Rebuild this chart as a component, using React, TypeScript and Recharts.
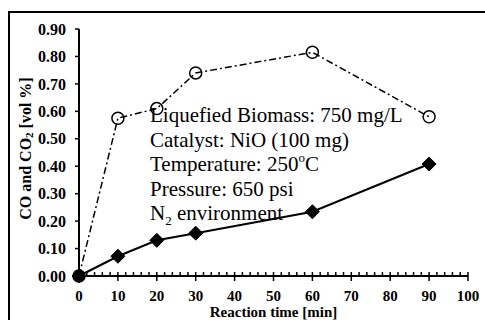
import React from 'react';
import { LineChart, Line, XAxis, YAxis } from 'recharts';

const times = [0, 10, 20, 30, 60, 90];
const seriesCircle = [0, 0.575, 0.61, 0.74, 0.815, 0.58];
const seriesDiamond = [0, 0.072, 0.13, 0.156, 0.234, 0.408];
const xTicks = [0, 2, 4, 6, 8, 10, 12, 14, 16, 18, 20, 22, 24, 26, 28, 30, 32, 34, 36, 38, 40, 42, 44, 46, 48, 50, 52, 54, 56, 58, 60, 62, 64, 66, 68, 70, 72, 74, 76, 78, 80, 82, 84, 86, 88, 90, 92, 94, 96, 98, 100];
const yTicks = [0, 0.1, 0.2, 0.3, 0.4, 0.5, 0.6, 0.7, 0.8, 0.9];

const data = times.map((t, i) => ({ t, a: seriesCircle[i], b: seriesDiamond[i] }));

const FONT = '"Liberation Serif", "Times New Roman", serif';

const XTick = (props: any) => {
  const { x, y, payload } = props;
  const v = payload.value;
  const major = v % 10 === 0;
  return (
    <g>
      <line x1={x} x2={x} y1={y - 4} y2={major ? y + 5 : y} stroke="#000" strokeWidth={1.5} />
      {major && (
        <text x={x} y={y + 24.5} textAnchor="middle" fontFamily={FONT} fontWeight="bold" fontSize={15} fill="#000">
          {v}
        </text>
      )}
    </g>
  );
};

const CircleDot = (props: any) => {
  const { cx, cy } = props;
  return <circle cx={cx} cy={cy} r={6} fill="none" stroke="#000" strokeWidth={1.5} />;
};

const DiamondDot = (props: any) => {
  const { cx, cy } = props;
  const h = 7;
  return <polygon points={`${cx},${cy - h} ${cx + h},${cy} ${cx},${cy + h} ${cx - h},${cy}`} fill="#000" stroke="#000" />;
};

const YLabel = (props: any) => {
  const vb = props.viewBox || { x: 0, y: 29, width: 79, height: 247 };
  const cx = vb.x + 25;
  const cy = vb.y + vb.height / 2 - 4;
  return (
    <text
      x={cx}
      y={cy}
      transform={`rotate(-90 ${cx} ${cy})`}
      textAnchor="middle"
      dominantBaseline="central"
      fontFamily={FONT}
      fontWeight="bold"
      fontSize={16}
      fill="#000"
    >
      CO and CO<tspan dy={4} fontSize={11}>2</tspan><tspan dy={-4}> [vol %]</tspan>
    </text>
  );
};

const XLabel = (props: any) => {
  const vb = props.viewBox || { x: 79, y: 276, width: 389, height: 44 };
  return (
    <text x={vb.x + vb.width / 2} y={vb.y + 40.5} textAnchor="middle" fontFamily={FONT} fontWeight="bold" fontSize={15} fill="#000">
      Reaction time [min]
    </text>
  );
};

const noteLines = ['Liquefied Biomass: 750 mg/L', 'Catalyst: NiO (100 mg)'];

export default function App() {
  return (
    <div style={{ position: 'absolute', left: 0, top: 0, width: 485, height: 320, background: '#fff', overflow: 'hidden' }}>
      <div style={{ position: 'absolute', left: 8, top: 11, width: 500, height: 340, borderTop: '2px solid #000', borderLeft: '2px solid #000' }} />
      <div style={{ position: 'absolute', left: 0, top: 0 }}>
        <LineChart width={485} height={320} data={data} margin={{ top: 29, right: 17, bottom: 0, left: 0 }}>
          <XAxis
            dataKey="t"
            type="number"
            domain={[0, 100]}
            ticks={xTicks}
            interval={0}
            tickLine={false}
            tickSize={0}
            tickMargin={0}
            tick={<XTick />}
            height={44}
            axisLine={{ stroke: '#000', strokeWidth: 2 }}
            label={<XLabel />}
          />
          <YAxis
            type="number"
            domain={[0, 0.9]}
            ticks={yTicks}
            interval={0}
            width={79}
            tickSize={4}
            tickMargin={9}
            tickFormatter={(v: number) => v.toFixed(2)}
            tick={{ fill: '#000', fontSize: 16, fontWeight: 'bold', fontFamily: FONT }}
            tickLine={{ stroke: '#000', strokeWidth: 1.5 }}
            axisLine={{ stroke: '#000', strokeWidth: 2 }}
            label={<YLabel />}
          />
          <Line
            type="linear"
            dataKey="a"
            stroke="#000"
            strokeWidth={1.5}
            strokeDasharray="7 3 2 3"
            dot={<CircleDot />}
            isAnimationActive={false}
          />
          <Line
            type="linear"
            dataKey="b"
            stroke="#000"
            strokeWidth={2}
            dot={<DiamondDot />}
            isAnimationActive={false}
          />
        </LineChart>
      </div>
      <div
        style={{
          position: 'absolute',
          left: 150,
          top: 103,
          fontFamily: FONT,
          fontSize: 21,
          lineHeight: '24.5px',
          color: '#000',
          whiteSpace: 'nowrap',
        }}
      >
        {noteLines.map((l) => (
          <div key={l}>{l}</div>
        ))}
        <div>
          Temperature: 250<span style={{ fontSize: 13, verticalAlign: 'top', lineHeight: 0, position: 'relative', top: 6 }}>o</span>C
        </div>
        <div>Pressure: 650 psi</div>
        <div>
          N<span style={{ fontSize: 13, lineHeight: 0, position: 'relative', top: 5 }}>2</span> environment
        </div>
      </div>
    </div>
  );
}
